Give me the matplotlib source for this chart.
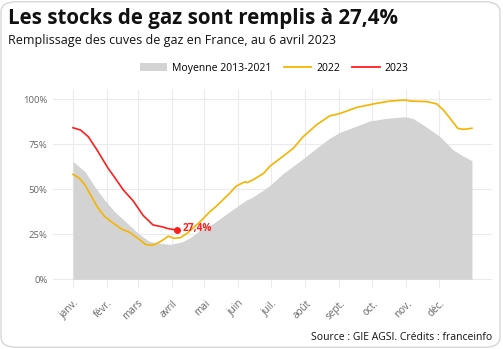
import matplotlib
matplotlib.use("Agg")
import matplotlib.pyplot as plt
from matplotlib.patches import FancyBboxPatch, Rectangle
from matplotlib.lines import Line2D

plt.rcParams['font.family'] = ['Open Sans', 'DejaVu Sans']

# month starts (day of year) and their labels
month_days = [0, 31, 59, 90, 120, 151, 181, 212, 243, 273, 304, 334]
month_labels = ["janv.", "févr.", "mars", "avril", "mai", "juin",
                "juil.", "août", "sept.", "oct.", "nov.", "déc."]

# Moyenne 2013-2021 (gray area)
avg_days = [0, 11, 20, 29, 38, 48, 58, 64, 70, 80, 89, 100, 108, 116, 128,
            143, 158, 162, 174, 180, 192, 210, 222, 234, 243, 259, 271, 286,
            303, 310, 322, 335, 347, 356, 364]
avg_vals = [65.5, 59.8, 51.4, 44.0, 37.6, 32.0, 26.4, 23.5, 21.0, 20.0, 19.4,
            20.9, 23.5, 27.4, 31.0, 37.6, 44.0, 45.0, 49.6, 52.4, 58.9, 67.0,
            72.8, 78.3, 81.5, 85.2, 88.0, 89.4, 90.3, 89.4, 84.8, 79.2, 71.8,
            68.5, 65.9]

# 2022 (yellow)
y22_days = [0, 6, 11, 17, 23, 29, 35, 44, 52, 57, 61, 66, 72, 77, 83, 87, 92,
            98, 104, 116, 125, 131, 143, 149, 157, 159, 165, 174, 180, 192,
            201, 210, 222, 234, 244, 259, 274, 289, 303, 308, 323, 332, 338,
            344, 351, 356, 364]
y22_vals = [58.3, 56.1, 52.4, 45.9, 39.4, 34.8, 32.0, 28.0, 26.0, 23.7, 22.0,
            19.4, 18.9, 20.0, 22.2, 24.0, 22.8, 23.1, 25.5, 32.0, 37.6, 40.7,
            47.8, 51.8, 54.2, 53.7, 55.5, 58.9, 63.0, 68.5, 72.8, 79.2, 85.7,
            90.7, 92.2, 95.5, 97.4, 99.0, 99.6, 99.0, 98.7, 97.4, 94.0, 89.4,
            83.9, 83.3, 83.9]

# 2023 (red)
y23_days = [0, 7, 14, 22, 32, 37, 46, 55, 64, 73, 81, 86, 90, 95]
y23_vals = [84.2, 82.9, 79.2, 71.8, 61.7, 57.5, 49.6, 43.5, 35.5, 30.2, 29.2,
            28.3, 27.8, 27.4]

yticks = [0, 25, 50, 75, 100]
ytick_labels = ["0%", "25%", "50%", "75%", "100%"]

fig = plt.figure(figsize=(5.03, 3.49), dpi=100)

# card border
card = FancyBboxPatch((0.002, 0.005), 0.992, 0.99,
                      boxstyle="round,pad=0,rounding_size=0.03",
                      transform=fig.transFigure, facecolor="white",
                      edgecolor="#d6d6d6", linewidth=1.0, zorder=-10)
fig.patches.append(card)

ax = fig.add_axes([0.1054, 0.1739, 0.8721, 0.5674])
ax.set_facecolor("none")

ax.fill_between(avg_days, 0, avg_vals, color="#d3d3d3", linewidth=0, zorder=2)
ax.plot(y22_days, y22_vals, color="#f4b400", linewidth=1.2, zorder=3)
ax.plot(y23_days, y23_vals, color="#ff1e1e", linewidth=1.2, zorder=4)
ax.plot(y23_days[-1], y23_vals[-1], "o", color="#ff1e1e", markersize=4, zorder=5)
ax.text(y23_days[-1] + 5, y23_vals[-1] + 0.8, "27,4%", color="#ff1e1e",
        fontsize=7.3, fontweight="bold", va="center", ha="left", zorder=5)

ax.set_xlim(-18.2, 382)
ax.set_ylim(-5, 105)
ax.set_xticks(month_days)
ax.set_xticklabels(month_labels, rotation=45, ha="right", va="top",
                   rotation_mode="anchor")
ax.set_yticks(yticks)
ax.set_yticklabels(ytick_labels)
ax.tick_params(length=0, labelsize=6.8, labelcolor="#666666", pad=4)
ax.tick_params(axis="x", labelsize=7.2, pad=7)
ax.grid(True, color="#ebebeb", linewidth=0.8, zorder=0)
ax.set_axisbelow(True)
for s in ax.spines.values():
    s.set_visible(False)

# titles
fig.text(0.016, 0.946, "Les stocks de gaz sont remplis à 27,4%",
         fontsize=14.8, fontweight="bold", color="#111111", va="center")
fig.text(0.016, 0.885, "Remplissage des cuves de gaz en France, au 6 avril 2023",
         fontsize=9.0, color="#111111", va="center")

# legend
handles = [Rectangle((0, 0), 1, 1, facecolor="#d3d3d3", edgecolor="none"),
           Line2D([0], [0], color="#f4b400", linewidth=1.3),
           Line2D([0], [0], color="#ff1e1e", linewidth=1.3)]
fig.legend(handles, ["Moyenne 2013-2021", "2022", "2023"], loc="center",
           bbox_to_anchor=(0.545, 0.805), ncol=3, frameon=False, fontsize=7.5,
           handlelength=2.6, handletextpad=0.5, columnspacing=1.2)

fig.text(0.978, 0.032, "Source : GIE AGSI. Crédits : franceinfo",
         fontsize=7.5, color="#111111", ha="right", va="center")

fig.savefig("out.png", dpi=100)
